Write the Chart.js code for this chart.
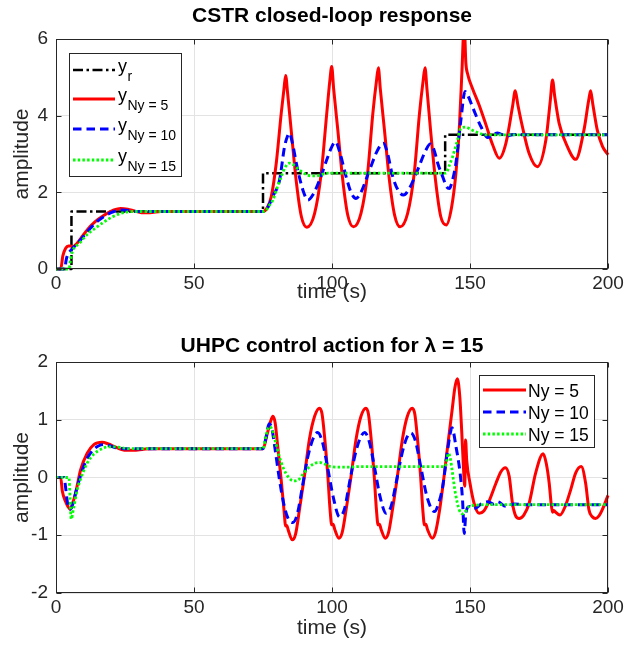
<!DOCTYPE html>
<html><head><meta charset="utf-8">
<script src="https://cdn.jsdelivr.net/npm/chart.js@4.4.1/dist/chart.umd.min.js"></script>
<style>
html,body{margin:0;padding:0;background:#fff;}
#wrap{position:relative;width:625px;height:651px;overflow:hidden;}
canvas{position:absolute;left:0;}
</style></head><body>
<div id="wrap">
<canvas id="c1" width="625" height="320" style="top:0"></canvas>
<canvas id="c2" width="625" height="331" style="top:320px"></canvas>
</div>
<script>
// ---------- axis ticks ----------
const timeTicks = [0, 50, 100, 150, 200];
const outputTicks = [0, 2, 4, 6];
const controlTicks = [-2, -1, 0, 1, 2];

// ---------- top plot: CSTR closed-loop response ([time, value]) ----------
const yRef = [[0,0],[5.6,0],[5.6,1.5],[75,1.5],[75,2.5],[141,2.5],[141,3.5],[200,3.5]];
const yNy5 = [[0,0],[1.7,0],[2.5,0.35],[3.5,0.54],[4.5,0.6],[5.3,0.6],[6,0.58],[7.5,0.66],[9,0.8],[11.3,1.02],[14,1.22],[17.4,1.4],[21,1.54],[23.4,1.58],[26,1.56],[28.5,1.51],[31,1.47],[34,1.47],[38,1.5],
 [75,1.5],[76.5,1.6],[78,1.89],[79.8,2.76],[81.6,4.06],[82.6,4.7],[83.2,5.05],[83.9,4.6],[85.2,3.63],[87,2.32],[88.9,1.37],[90.9,1.09],
 [93.7,1.45],[96.1,2.5],[98.1,4.06],[99.2,4.9],[99.9,5.28],[100.6,4.7],[102.1,3.63],[103.9,2.32],[105.7,1.41],[107.8,1.1],
 [110.5,1.45],[112.9,2.5],[114.8,4.06],[116.1,4.9],[116.8,5.25],[117.5,4.7],[119,3.63],[120.8,2.32],[122.7,1.4],[124.7,1.1],
 [127.4,1.45],[129.8,2.5],[131.7,4.06],[133,4.9],[133.7,5.25],[134.4,4.7],[135.7,3.63],[137.5,2.32],[139.4,1.37],[141.4,1.15],
 [143.3,1.6],[144.9,2.5],[146.1,3.63],[147.1,5.19],[147.9,6.4],[148.5,5.37],[149.1,5.1],[150.9,4.71],[153.3,4.28],[155.8,3.76],[158.2,3.24],[160.6,2.89],
 [163,3.28],[165.4,4.23],[166.4,4.65],[167.3,4.3],[169,3.71],[171.4,3.02],[174.4,2.67],[177.5,3.37],[179.1,4.4],[179.9,4.93],[180.7,4.5],[182.3,3.8],[185.3,3.19],[188.3,2.86],
 [191.3,3.63],[193,4.4],[193.7,4.65],[194.5,4.3],[196.1,3.63],[198,3.2],[200,2.98]];
const yNy10 = [[0,0],[3.2,0],[3.6,0.2],[4.1,0.35],[5.5,0.5],[7.7,0.66],[9,0.77],[11.3,0.97],[14,1.18],[17.4,1.37],[21,1.5],[24,1.54],[27,1.52],[30,1.5],
 [75,1.5],[76.5,1.58],[78.6,1.9],[81,2.32],[82.8,3.19],[83.8,3.45],[84.6,3.54],[85.6,3.3],[87.6,2.58],[89.5,2.05],[91.3,1.8],[93.2,1.95],[95.5,2.32],[98.5,2.93],[100,3.2],[101.3,3.32],
 [102.8,3.05],[105.1,2.41],[107,1.98],[108.7,1.84],[110.5,2.0],[113.6,2.58],[116.5,3.1],[118.6,3.28],[120,3.05],[122,2.41],[124,2.05],[125.9,1.93],[128,2.1],[131,2.58],[134,3.1],[135.6,3.26],
 [137,3.1],[138.3,2.76],[140.1,2.41],[141.5,2.15],[142.5,2.1],[143.6,2.3],[144.9,2.76],[146.7,3.89],[148.2,4.63],[149.4,4.5],[150.9,4.23],[154,3.71],[156.4,3.43],[158,3.48],[160,3.55],[163,3.47],[166,3.51],[170,3.5],[200,3.5]];
const yNy15 = [[0,0],[4.7,0],[5.3,0.25],[5.9,0.45],[8.5,0.67],[11.3,0.9],[14.5,1.08],[17.4,1.23],[20.5,1.36],[23.4,1.45],[26,1.49],[28,1.5],
 [75,1.5],[76.2,1.54],[77.5,1.68],[78.6,1.8],[80,2.1],[81.6,2.41],[83,2.65],[84.4,2.76],[86,2.72],[88.2,2.58],[90.5,2.47],[92.5,2.43],[94.3,2.43],[96.5,2.47],[98.7,2.5],
 [141.3,2.5],[142.5,2.7],[143.7,2.93],[145.5,3.37],[146.7,3.67],[148.5,3.7],[150.5,3.63],[152.1,3.58],[155.7,3.5],[200,3.5]];

// ---------- bottom plot: UHPC control action ([time, value]) ----------
const uNy5 = [[0,0],[1.7,0],[2.3,-0.24],[3.5,-0.42],[4.3,-0.5],[5.1,-0.55],[6,-0.45],[7.1,-0.27],[8.9,0.13],[11.3,0.42],[13.7,0.57],[16.7,0.61],[19,0.58],[21,0.54],[23.5,0.49],[25.8,0.47],[28,0.47],[31.8,0.49],[35,0.5],
 [75,0.5],[76.5,0.75],[77.6,0.95],[78.6,1.06],[79.4,0.95],[80.2,0.6],[81.5,0.0],[82.6,-0.56],[83.2,-0.84],[83.6,-0.83],[84.2,-0.92],[85.6,-1.08],[86.8,-0.98],
 [88.2,-0.56],[90,0.02],[91.8,0.66],[93.7,1.06],[95.5,1.2],[96.4,1.1],[97.3,0.71],[98.5,0.02],[99.3,-0.56],[99.9,-0.82],[100.4,-0.81],[101,-0.9],[102.5,-1.05],[103.7,-0.95],
 [105.1,-0.56],[106.9,0.02],[108.7,0.66],[110.5,1.06],[112.3,1.2],[113.2,1.1],[114.1,0.71],[115.3,0.02],[116.1,-0.56],[116.7,-0.82],[117.2,-0.81],[117.8,-0.9],[119.3,-1.05],[120.5,-0.95],
 [121.9,-0.56],[123.7,0.02],[125.5,0.66],[127.3,1.06],[129.1,1.2],[130,1.1],[130.9,0.71],[132.1,0.02],[132.9,-0.56],[133.5,-0.82],[134,-0.81],[134.6,-0.9],[136.3,-1.05],[137.5,-0.95],
 [139,-0.56],[140.6,0.02],[142.2,0.66],[143.6,1.2],[144.5,1.55],[145.4,1.71],[146.3,1.4],[147,0.8],[147.6,0.2],[148.1,-0.15],[148.4,0.65],[148.8,0.3],[150,-0.1],[151.5,-0.45],[153.3,-0.62],
 [155,-0.58],[157,-0.4],[159.4,-0.1],[161.2,0.1],[162.8,0.17],[164.2,0.02],[165.4,-0.45],[166.5,-0.66],[167.8,-0.71],[169.5,-0.65],[171.4,-0.45],[173.8,0.08],[176.5,0.41],[177.6,0.25],
 [178.7,-0.1],[179.4,-0.45],[179.9,-0.6],[180.4,-0.57],[181,-0.6],[182.6,-0.65],[184.5,-0.5],[186.5,-0.21],[188.3,0.08],[190.3,0.19],[191.9,-0.1],[193.1,-0.56],[194.3,-0.68],[195.5,-0.71],
 [196.8,-0.66],[197.9,-0.56],[200,-0.31]];
const uNy10 = [[0,0],[2.9,0],[3.5,-0.18],[4.1,-0.42],[5.1,-0.55],[5.8,-0.5],[7.7,-0.16],[9.5,0.12],[11.3,0.33],[13.5,0.48],[15.5,0.55],[17.4,0.57],[19.5,0.55],[22,0.51],[25,0.5],
 [75,0.5],[76.2,0.72],[77.2,0.93],[78.2,0.85],[79.5,0.45],[81,-0.05],[82.5,-0.45],[84,-0.7],[85.8,-0.78],[87.5,-0.62],[89.3,-0.15],[91.2,0.35],[93.2,0.68],[94.8,0.78],
 [96.5,0.62],[98.5,0.15],[100.5,-0.35],[102.7,-0.68],[104.5,-0.55],[106.3,-0.1],[108.3,0.38],[110.2,0.68],[111.8,0.78],[113.5,0.62],[115.5,0.15],[117.5,-0.35],[119.6,-0.62],
 [121.4,-0.5],[123.2,-0.1],[125.2,0.38],[127,0.68],[128.6,0.77],[130.3,0.62],[132.3,0.15],[134.5,-0.35],[137.1,-0.59],[138.6,-0.45],[140.1,-0.16],[141.9,0.48],[143.5,0.86],
 [144.9,0.54],[146.4,0.08],[147.3,-0.39],[147.9,-0.97],[148.5,-0.62],[149.7,-0.5],[150.9,-0.54],[152.5,-0.52],[154,-0.46],[156.4,-0.42],[158.5,-0.46],[160,-0.42],[163,-0.5],[166,-0.46],[170,-0.47],[200,-0.47]];
const uNy15 = [[0,0],[4.7,0],[5.1,-0.35],[5.5,-0.72],[6.3,-0.55],[7.7,-0.21],[9.5,0.05],[11.3,0.25],[13,0.37],[14.9,0.45],[16.8,0.5],[18.6,0.53],[21,0.53],[23.4,0.52],[26,0.5],
 [75,0.5],[76.2,0.75],[77.2,0.88],[78.2,0.84],[79.5,0.62],[81,0.35],[82.5,0.15],[84.3,0.0],[86,-0.06],[87.6,-0.05],[89.5,0.06],[91.5,0.17],[93.5,0.24],[95.5,0.26],[97.5,0.23],[99.5,0.19],
 [102.7,0.18],[106,0.18],[110,0.19],[141,0.19],[141.6,0.3],[142.2,0.42],[143,0.3],[143.5,0.13],[144.7,-0.27],[146.1,-0.56],[147.3,-0.63],[148.5,-0.58],[149.7,-0.5],[152,-0.48],[156,-0.47],[200,-0.47]];

// ---------- texts ----------
const topTitle = 'CSTR closed-loop response';
const bottomTitle = 'UHPC control action for \u03BB = 15';
const xLabel = 'time (s)';
const yLabel = 'amplitude';
const topLegend = [['y','r'],['y','Ny = 5'],['y','Ny = 10'],['y','Ny = 15']];
const bottomLegend = [['Ny = 5',''],['Ny = 10',''],['Ny = 15','']];

// ---------- styling ----------
const FONT = "'Liberation Sans', Arial, Helvetica, sans-serif";
Chart.defaults.font.family = FONT;
const AXC = '#262626';
const GRID = '#e3e3e3';

const styles = {
  ref:  {borderColor:'#000000', borderWidth:2.5, borderDash:[10,3.5,2.5,3.5]},
  n5:   {borderColor:'#ff0000', borderWidth:3,   borderDash:[]},
  n10:  {borderColor:'#0000ff', borderWidth:3,   borderDash:[8.5,5]},
  n15:  {borderColor:'#00ff00', borderWidth:2.8, borderDash:[2.5,2.2]}
};

function toXY(arr){ return arr.map(p => ({x:p[0], y:p[1]})); }
function ds(arr, st, order, smooth){
  return Object.assign({
    data: toXY(arr), order: order, pointRadius:0, fill:false,
    tension: smooth ? 0.4 : 0, cubicInterpolationMode: smooth ? 'monotone' : 'default',
    borderCapStyle:'butt', borderJoinStyle:'round',
    clip:{left:2, right:2, top:0, bottom:3}
  }, st);
}

const boxPlugin = {
  id:'matlabBox',
  afterDatasetsDraw(chart){
    const {ctx, chartArea:a, scales} = chart;
    ctx.save();
    ctx.strokeStyle = AXC; ctx.lineWidth = 1; ctx.setLineDash([]);
    const L = Math.round(a.left)+0.5, R = Math.round(a.right)-0.5, T = Math.round(a.top)+0.5, B = Math.round(a.bottom)-0.5;
    ctx.strokeRect(L, T, R-L, B-T);
    const tl = 5;
    ctx.beginPath();
    scales.x.ticks.forEach(t => {
      const px = Math.round(scales.x.getPixelForValue(t.value))+0.5;
      ctx.moveTo(px,B); ctx.lineTo(px,B-tl); ctx.moveTo(px,T); ctx.lineTo(px,T+tl);
    });
    scales.y.ticks.forEach(t => {
      const py = Math.round(scales.y.getPixelForValue(t.value))+0.5;
      ctx.moveTo(L,py); ctx.lineTo(L+tl,py); ctx.moveTo(R,py); ctx.lineTo(R-tl,py);
    });
    ctx.stroke();
    ctx.restore();
  }
};

const legendPlugin = {
  id:'matlabLegend',
  afterDraw(chart, args, o){
    if (!o || !o.items) return;
    const {ctx, chartArea:a} = chart;
    const bx = Math.round(o.right ? a.right - o.insetX - o.width : a.left + o.insetX);
    const by = Math.round(a.top + o.insetY);
    ctx.save();
    ctx.fillStyle = '#fff';
    ctx.fillRect(bx, by, o.width, o.height);
    ctx.strokeStyle = AXC; ctx.lineWidth = 1; ctx.setLineDash([]);
    ctx.strokeRect(bx+0.5, by+0.5, o.width, o.height);
    o.items.forEach((it, i) => {
      const d = chart.data.datasets[i];
      const ly = by + o.rows[i];
      ctx.beginPath();
      ctx.strokeStyle = d.borderColor; ctx.lineWidth = d.borderWidth; ctx.lineCap = 'butt';
      ctx.setLineDash(d.borderDash || []);
      ctx.moveTo(bx + o.lineX[0], ly); ctx.lineTo(bx + o.lineX[1], ly); ctx.stroke();
      ctx.setLineDash([]);
      ctx.fillStyle = '#000';
      ctx.textBaseline = 'alphabetic';
      ctx.textAlign = 'left';
      ctx.font = o.fontSize + 'px ' + FONT;
      const tx = bx + o.textX;
      ctx.fillText(it[0], tx, ly + o.mainDy);
      if (it[1]) {
        const w = ctx.measureText(it[0]).width;
        ctx.font = o.subSize + 'px ' + FONT;
        ctx.fillText(it[1], tx + w + 0.5, ly + o.subDy);
      }
    });
    ctx.restore();
  }
};

function makeOptions(cfg){
  return {
    responsive:false, animation:false, events:[], devicePixelRatio:1,
    layout:{padding:{left:0, right:17, top:0, bottom:0}},
    plugins:{
      legend:{display:false}, tooltip:{enabled:false},
      title:{display:true, text:cfg.title, fullSize:false, color:'#000',
             font:{size:21, weight:'bold', family:FONT}, padding:cfg.titlePad},
      matlabLegend: cfg.legend
    },
    scales:{
      x:{type:'linear', min:0, max:200,
         afterBuildTicks(s){ s.ticks = timeTicks.map(v => ({value:v})); },
         afterFit(s){ s.height = cfg.xHeight; s.paddingLeft = 0; s.paddingRight = 0; },
         ticks:{color:AXC, font:{size:19}, padding:3, maxRotation:0, autoSkip:false},
         grid:{color:GRID, lineWidth:1, drawTicks:false}, border:{display:false},
         title:{display:true, text:xLabel, color:AXC, font:{size:21}, padding:{top:0, bottom:cfg.xTitlePad}}
      },
      y:{type:'linear', min:cfg.yMin, max:cfg.yMax,
         afterBuildTicks(s){ s.ticks = cfg.yTicks.map(v => ({value:v})); },
         afterFit(s){ s.width = 56; s.paddingTop = 0; s.paddingBottom = 0; },
         ticks:{color:AXC, font:{size:19}, padding:8, autoSkip:false},
         grid:{color:GRID, lineWidth:1, drawTicks:false}, border:{display:false},
         title:{display:true, text:yLabel, color:AXC, font:{size:21}, padding:{top:9.4, bottom:0}}
      }
    }
  };
}

new Chart(document.getElementById('c1'), {
  type:'line',
  data:{datasets:[ds(yRef, styles.ref, 4, false), ds(yNy5, styles.n5, 3, true), ds(yNy10, styles.n10, 2, true), ds(yNy15, styles.n15, 1, true)]},
  options: makeOptions({
    title: topTitle, titlePad:{top:4, bottom:9.8}, xHeight:51, xTitlePad:15.4,
    yMin:0, yMax:6, yTicks:outputTicks,
    legend:{items:topLegend, right:false, insetX:13, insetY:14, width:112, height:123,
            rows:[17,46,76,107], lineX:[4,46], textX:49, fontSize:18, subSize:14, mainDy:2, subDy:11}
  }),
  plugins:[boxPlugin, legendPlugin]
});

new Chart(document.getElementById('c2'), {
  type:'line',
  data:{datasets:[ds(uNy5, styles.n5, 3, true), ds(uNy10, styles.n10, 2, true), ds(uNy15, styles.n15, 1, true)]},
  options: makeOptions({
    title: bottomTitle, titlePad:{top:13.4, bottom:3.4}, xHeight:58, xTitlePad:10.4,
    yMin:-2, yMax:2, yTicks:controlTicks,
    legend:{items:bottomLegend, right:true, insetX:14, insetY:13, width:115, height:72,
            rows:[15,37,59], lineX:[4,47], textX:49, fontSize:17.5, subSize:14, mainDy:6.5, subDy:0}
  }),
  plugins:[boxPlugin, legendPlugin]
});
</script>
</body></html>
